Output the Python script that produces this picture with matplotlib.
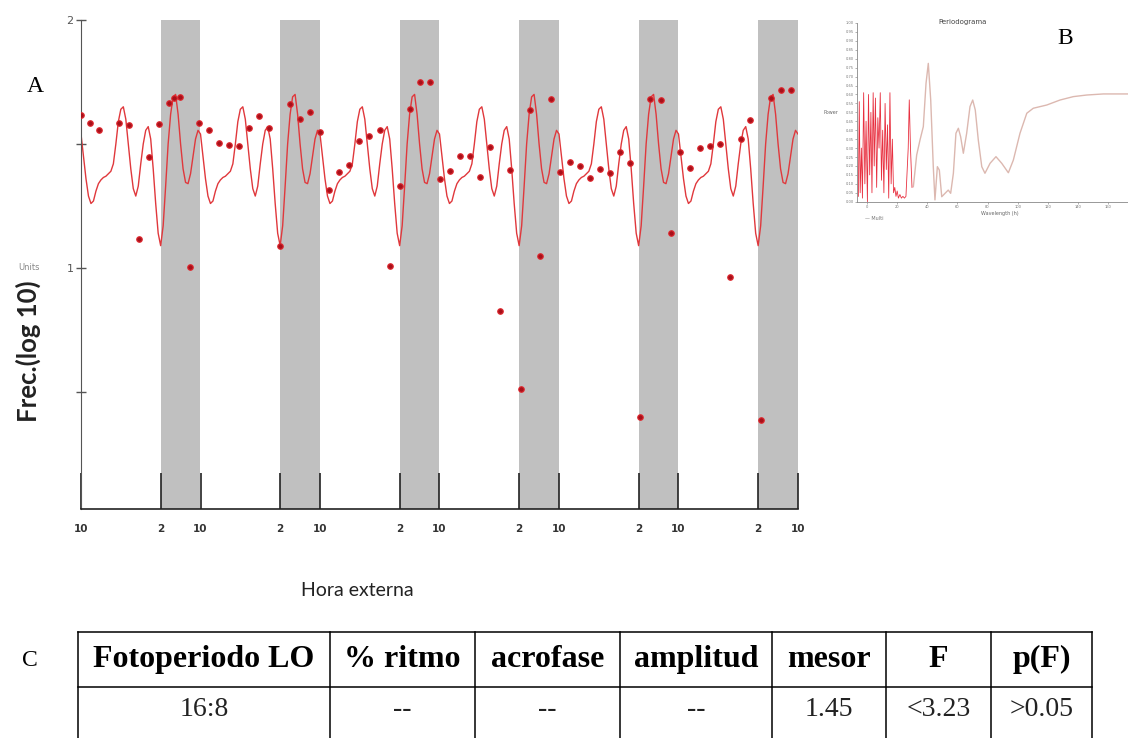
import matplotlib
matplotlib.use("Agg")
import matplotlib.pyplot as plt
import numpy as np

W, H = 1128, 738

# --- panel A data (hours from the first 10:00 mark, log10 frequency) ---
point_hours = [0, 1.8, 3.7, 7.7, 9.7, 11.7, 13.7, 15.7, 17.6, 18.7, 19.8, 21.8, 23.7,
               25.7, 27.7, 29.8, 31.8, 33.8, 35.8, 37.8, 40.0, 42.0, 44.0, 45.9, 47.9,
               49.9, 51.9, 53.9, 55.8, 57.9, 60.1, 62.1, 64.1, 66.1, 68.0, 70.0,
               72.2, 74.2, 76.2, 78.2, 80.1, 82.1, 84.1, 86.1, 88.3, 90.2, 92.2, 94.3,
               96.3, 98.3, 100.3, 102.3, 104.3, 106.3, 108.3, 110.3, 112.2, 114.3, 116.4, 118.4,
               120.4, 122.4, 124.4, 126.4, 128.3, 130.4, 132.5, 134.4, 136.5, 138.5, 140.5, 142.5]
point_vals = [1.617, 1.586, 1.556, 1.586, 1.577, 1.116, 1.447, 1.581, 1.667, 1.685, 1.69, 1.004, 1.586,
              1.556, 1.503, 1.496, 1.492, 1.563, 1.613, 1.566, 1.089, 1.662, 1.602, 1.628, 1.548,
              1.315, 1.388, 1.415, 1.512, 1.532, 1.557, 1.006, 1.331, 1.642, 1.750, 1.750,
              1.358, 1.393, 1.452, 1.452, 1.368, 1.488, 0.827, 1.394, 0.511, 1.637, 1.05, 1.68,
              1.388, 1.427, 1.413, 1.364, 1.398, 1.382, 1.469, 1.422, 0.397, 1.680, 1.677, 1.142,
              1.469, 1.403, 1.483, 1.493, 1.498, 0.962, 1.521, 1.597, 0.387, 1.684, 1.716, 1.716]

# fitted curve, read every half hour over one day (it repeats each day)
fit_hours = [i * 0.5 for i in range(48)]
fit_vals = [1.54, 1.45, 1.36, 1.29, 1.26, 1.27, 1.31, 1.34, 1.355, 1.365, 1.37, 1.38,
            1.39, 1.42, 1.50, 1.59, 1.64, 1.65, 1.60, 1.50, 1.40, 1.32, 1.29, 1.33,
            1.42, 1.50, 1.555, 1.57, 1.52, 1.40, 1.26, 1.14, 1.09, 1.17, 1.33, 1.50,
            1.62, 1.69, 1.70, 1.62, 1.50, 1.40, 1.345, 1.34, 1.38, 1.45, 1.52, 1.555]
n_days = 6
dark_start, dark_end = 16, 24

# --- panel B data (periodogram) ---
red_x = [-5.5, -4.9, -4.3, -3.5, -2.8, -2.0, -1.2, -0.4, 0.5, 1.2, 2.0, 2.8, 3.5, 4.3, 5.0,
         5.8, 6.6, 7.4, 8.2, 9.0, 9.8, 10.6, 11.4, 12.2, 13.0, 13.8, 14.6, 15.4, 16.2, 17.0,
         17.8, 18.6, 19.4, 20.2, 21.0, 22.0, 23.0, 24.0, 25.0, 26.0, 27.5, 28.2, 29.0, 30.0]
red_y = [0.03, 0.56, 0.05, 0.30, 0.02, 0.61, 0.10, 0.45, 0.00, 0.60, 0.15, 0.50, 0.05, 0.61, 0.20,
         0.58, 0.08, 0.47, 0.30, 0.61, 0.12, 0.40, 0.05, 0.55, 0.18, 0.43, 0.02, 0.61, 0.10, 0.35,
         0.05, 0.08, 0.03, 0.06, 0.02, 0.04, 0.02, 0.03, 0.02, 0.03, 0.30, 0.57, 0.30, 0.08]
pink_x = [30.9, 33.1, 35.3, 37.5, 39.3, 40.8, 42.4, 44.1, 45.2, 46.8, 48.1, 49.7, 51.9, 54.0,
          55.6, 57.4, 59.1, 60.7, 62.2, 64.0, 66.2, 68.4, 70.2, 71.9, 73.9, 76.2, 78.3, 81.7,
          85.6, 89.4, 93.8, 97.1, 101.5, 106.0, 110.3, 119.2, 128.0, 136.8, 145.7, 156.7, 173.0]
pink_y = [0.084, 0.261, 0.345, 0.42, 0.663, 0.774, 0.569, 0.196, 0.01, 0.196, 0.177, 0.028, 0.047, 0.065,
          0.047, 0.159, 0.383, 0.411, 0.364, 0.271, 0.383, 0.532, 0.569, 0.513, 0.345, 0.196, 0.159, 0.215,
          0.252, 0.215, 0.162, 0.233, 0.383, 0.495, 0.523, 0.541, 0.569, 0.588, 0.597, 0.603, 0.603]

# --- panel C table ---
table_header = ["Fotoperiodo LO", "% ritmo", "acrofase", "amplitud", "mesor", "F", "p(F)"]
table_row = ["16:8", "--", "--", "--", "1.45", "<3.23", ">0.05"]


def fx(px):
    return px / W


def fy(py):
    return 1 - py / H


fig = plt.figure(figsize=(W / 100, H / 100), dpi=100)

# Panel A
ax = fig.add_axes([fx(81), fy(509), (798 - 81) / W, (509 - 20) / H])
for d in range(n_days):
    ax.axvspan(24 * d + dark_start, 24 * d + dark_end, color="#c0c0c0", lw=0, zorder=0)

curve_x, curve_y = [], []
for d in range(n_days):
    curve_x += [24 * d + h for h in fit_hours]
    curve_y += fit_vals
curve_x.append(24 * n_days)
curve_y.append(fit_vals[0])
ax.plot(curve_x, curve_y, color="#e0383c", lw=1.0, zorder=2)
ax.plot(point_hours, point_vals, "o", ms=4.0, mfc="#a8101a", mec="#e02a30", mew=0.8, zorder=3)

ax.set_xlim(0, 24 * n_days)
ax.set_ylim(0.028, 2.0)
xt = [0]
xl = ["10"]
for d in range(n_days):
    xt += [24 * d + dark_start, 24 * d + dark_end]
    xl += ["2", "10"]
ax.set_xticks(xt)
ax.set_xticklabels(xl)
ax.tick_params(axis="x", direction="in", length=26, width=1.2, color="#222",
               labelsize=7.5, pad=11, labelcolor="#333")
for lab in ax.get_xticklabels():
    lab.set_fontweight("bold")
ax.set_yticks([0.5, 1, 1.5, 2])
ax.set_yticklabels(["", "1", "", "2"])
ax.tick_params(axis="y", direction="inout", length=7, width=1, color="#555",
               labelsize=8, labelcolor="#555", pad=2)
for s in ["top", "right"]:
    ax.spines[s].set_visible(False)
ax.spines["left"].set_color("#555")
ax.spines["bottom"].set_color("#222")
ax.spines["bottom"].set_linewidth(1.2)

fig.text(fx(28), fy(351), "Frec.(log 10)", rotation=90, ha="center", va="center",
         family="Lato", fontweight="bold", fontsize=18.5, color="#222")
fig.text(fx(357), fy(591), "Hora externa", ha="center", va="center",
         family="Lato", fontsize=14, color="#222")
fig.text(fx(29), fy(267), "Units", ha="center", va="center", fontsize=6, color="#888")
fig.text(fx(35), fy(87), "A", ha="center", va="center", family="Liberation Serif", fontsize=17)
fig.text(fx(1065), fy(38), "B", ha="center", va="center", family="Liberation Serif", fontsize=17)
fig.text(fx(30), fy(660), "C", ha="center", va="center", family="Liberation Serif", fontsize=17)

# Panel B inset
bx = fig.add_axes([fx(857), fy(201.7), (W - 857) / W, (201.7 - 23) / H])
bx.plot(pink_x, pink_y, color="#dcb8b0", lw=1.0)
bx.plot(red_x, red_y, color="#e83040", lw=0.6)
bx.set_xlim(-6.4, 173)
bx.set_ylim(0, 1)
bx.set_xticks(np.arange(0, 161, 20))
bx.set_yticks(np.arange(0, 1.01, 0.05))
bx.set_yticklabels([f"{v:.2f}" for v in np.arange(0, 1.01, 0.05)])
bx.tick_params(labelsize=2.6, length=1.5, width=0.4, pad=1, colors="#777")
for s in ["top", "right"]:
    bx.spines[s].set_visible(False)
for s in ["left", "bottom"]:
    bx.spines[s].set_color("#888")
    bx.spines[s].set_linewidth(0.6)
fig.text(fx(963), fy(22), "Periodograma", ha="center", va="center", fontsize=5, color="#444")
fig.text(fx(831), fy(112), "Power", ha="center", va="center", fontsize=3.5, color="#666")
fig.text(fx(1000), fy(213), "Wavelength (h)", ha="center", va="center", fontsize=3.5, color="#666")
fig.text(fx(874), fy(218), "\u2014 Multi", ha="center", va="center", fontsize=3.5, color="#777")

# Panel C table
col_edges = [78, 330, 475, 620, 772, 886, 991, 1092]
row_edges = [632, 687, 742]
tx = fig.add_axes([0, 0, 1, 1])
tx.set_xlim(0, W)
tx.set_ylim(H, 0)
tx.axis("off")
for x in col_edges:
    tx.plot([x, x], [row_edges[0], row_edges[-1]], color="black", lw=1.1)
for y in row_edges:
    tx.plot([col_edges[0], col_edges[-1]], [y, y], color="black", lw=1.1)
for i in range(len(table_header)):
    cx = (col_edges[i] + col_edges[i + 1]) / 2
    tx.text(cx, (row_edges[0] + row_edges[1]) / 2, table_header[i], ha="center", va="center",
            family="Liberation Serif", fontweight="bold", fontsize=23)
    tx.text(cx, (row_edges[1] + row_edges[2]) / 2 - 5, table_row[i], ha="center", va="center",
            family="Liberation Serif", fontsize=20, color="#222")

fig.savefig("out.png", dpi=100)
